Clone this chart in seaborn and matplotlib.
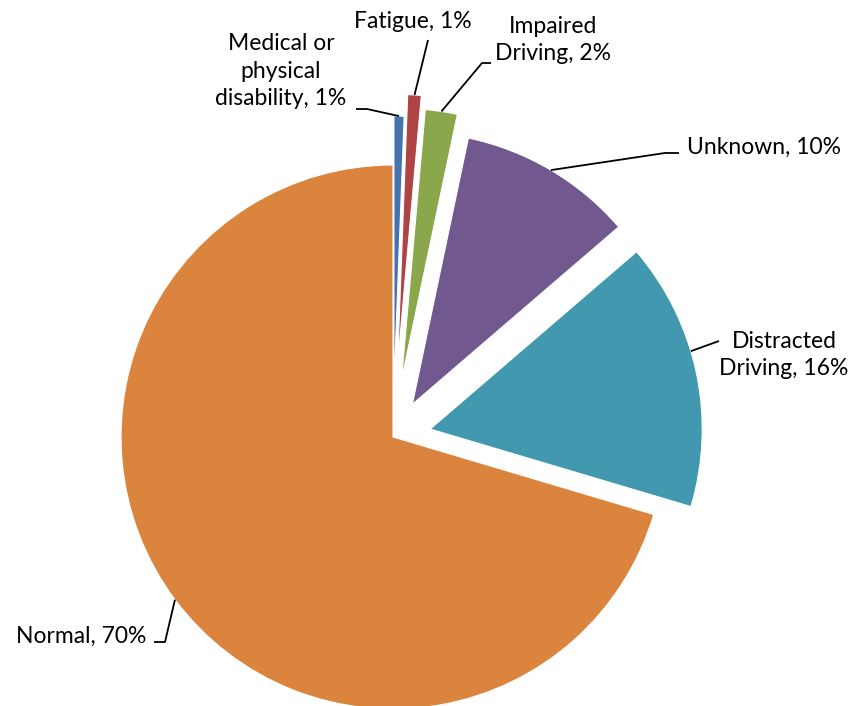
import matplotlib
matplotlib.use("Agg")
import matplotlib.pyplot as plt
import numpy as np
import seaborn as sns

sns.set_theme(style="white")
plt.rcParams["font.family"] = ["Lato", "DejaVu Sans"]

# Data, clockwise from 12 o'clock
categories = ["Medical or\nphysical\ndisability", "Fatigue", "Impaired\nDriving",
              "Unknown", "Distracted\nDriving", "Normal"]
shares = [0.6, 0.8, 1.9, 10.4, 15.9, 70.4]
colors = ["#4673B0", "#AE4544", "#8BA74C", "#71588F", "#4198AF", "#DA843E"]
explode = [0.18, 0.26, 0.21, 0.14, 0.14, 0.0]

W, H = 853, 706
CX, CY, R = 393, 437, 272  # pie centre / radius in pixels


def px(x, y):
    # pixel position (top-left origin) -> data coords (radius = 1)
    return (x - CX) / R, (CY - y) / R


fig = plt.figure(figsize=(W / 100, H / 100), dpi=100)
ax = fig.add_axes([0, 0, 1, 1])

wedges, _ = ax.pie(shares, colors=colors, explode=explode, startangle=90,
                   counterclock=False, radius=1.0,
                   wedgeprops=dict(edgecolor="white", linewidth=0.8))

ax.set_aspect("auto")
ax.set_xlim(-CX / R, (W - CX) / R)
ax.set_ylim(-(H - CY) / R, CY / R)
ax.axis("off")

labels = [f"{c}, {round(s)}%" for c, s in zip(categories, shares)]

# label layout: text centre (pixels), leader line points after the arc anchor, anchor fraction on arc
layout = [
    dict(text=(281, 71), line=[(367, 109), (356, 109)], frac=0.5),
    dict(text=(413, 21), line=[(428, 40)], frac=0.5),
    dict(text=(553, 40), line=[(482, 63), (491, 63)], frac=0.5),
    dict(text=(764, 147), line=[(665, 153), (679, 153)], frac=0.5),
    dict(text=(784, 355), line=[(719, 341)], frac=0.58),
    dict(text=(81, 636), line=[(165, 642), (154, 642)], frac=0.5),
]

for w, lab, lay in zip(wedges, labels, layout):
    ang = np.deg2rad(w.theta1 + lay["frac"] * (w.theta2 - w.theta1))
    cx, cy = w.center
    anchor = (cx + w.r * np.cos(ang), cy + w.r * np.sin(ang))
    pts = [anchor] + [px(*p) for p in lay["line"]]
    xs, ys = zip(*pts)
    ax.plot(xs, ys, color="black", lw=1.3, solid_capstyle="butt")
    tx, ty = px(*lay["text"])
    ax.text(tx, ty, lab, ha="center", va="center", fontsize=16.5,
            linespacing=1.4, color="black")

fig.savefig("out.png", dpi=100, facecolor="white")
